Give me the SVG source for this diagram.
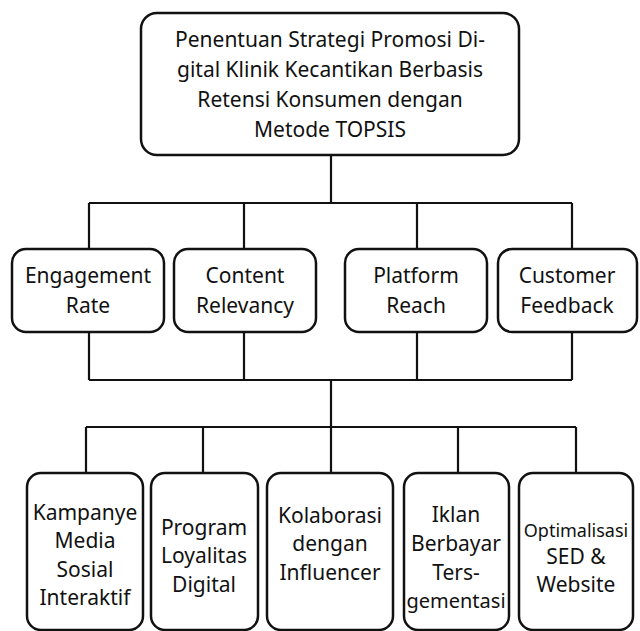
<svg xmlns="http://www.w3.org/2000/svg" width="640" height="631" viewBox="0 0 640 631">
<style>
.box{fill:#fff;stroke:#111;stroke-width:2.5}
.ln{fill:none;stroke:#111;stroke-width:2.2}
text{font-family:"Noto Sans","Open Sans",sans-serif;font-size:21px;fill:#111;text-anchor:middle}
text.sm{font-size:20px}
text.xs{font-size:18px}
</style>
<rect width="640" height="631" fill="#fff"/>
<g id="connectors">
<path class="ln" d="M331 155V203M89 203H572M89 203V249M244 203V249M417 203V249M572 203V249"/>
<path class="ln" d="M89 332V380M244 332V380M417 332V380M572 332V380M89 380H572M331 380V473"/>
<path class="ln" d="M86 427H576M86 427V473M203 427V473M458 427V473M576 427V473"/>
</g>
<g id="root">
<rect class="box" x="141" y="13" width="378" height="142" rx="16"/>
<text x="330" y="47">Penentuan Strategi Promosi Di-</text>
<text x="330" y="77">gital Klinik Kecantikan Berbasis</text>
<text x="330" y="107">Retensi Konsumen dengan</text>
<text x="330" y="137">Metode TOPSIS</text>
</g>
<g id="c1"><rect class="box" x="12" y="249" width="152" height="83" rx="14"/><text x="88" y="283">Engagement</text><text x="88" y="313">Rate</text></g>
<g id="c2"><rect class="box" x="174" y="249" width="142" height="83" rx="14"/><text x="245" y="283">Content</text><text x="245" y="313">Relevancy</text></g>
<g id="c3"><rect class="box" x="345" y="249" width="142" height="83" rx="14"/><text x="416" y="283">Platform</text><text x="416" y="313">Reach</text></g>
<g id="c4"><rect class="box" x="498" y="249" width="139" height="83" rx="14"/><text x="567" y="283">Customer</text><text x="567" y="313">Feedback</text></g>
<g id="a1"><rect class="box" x="27" y="473" width="116" height="157" rx="14"/><text x="85" y="520">Kampanye</text><text x="85" y="548">Media</text><text x="85" y="577">Sosial</text><text x="85" y="605">Interaktif</text></g>
<g id="a2"><rect class="box" x="151" y="473" width="107" height="157" rx="14"/><text x="204" y="535">Program</text><text x="204" y="563">Loyalitas</text><text x="204" y="592">Digital</text></g>
<g id="a3"><rect class="box" x="267" y="473" width="126" height="157" rx="14"/><text x="330" y="523">Kolaborasi</text><text x="330" y="551">dengan</text><text x="330" y="580">Influencer</text></g>
<g id="a4"><rect class="box" x="404" y="473" width="105" height="157" rx="14"/><text x="456" y="522">Iklan</text><text x="456" y="551">Berbayar</text><text x="456" y="580">Ters-</text><text class="sm" x="456" y="608">gementasi</text></g>
<g id="a5"><rect class="box" x="519" y="473" width="114" height="157" rx="14"/><text class="xs" x="576" y="537">Optimalisasi</text><text x="576" y="564">SED &amp;</text><text x="576" y="592">Website</text></g>
</svg>
